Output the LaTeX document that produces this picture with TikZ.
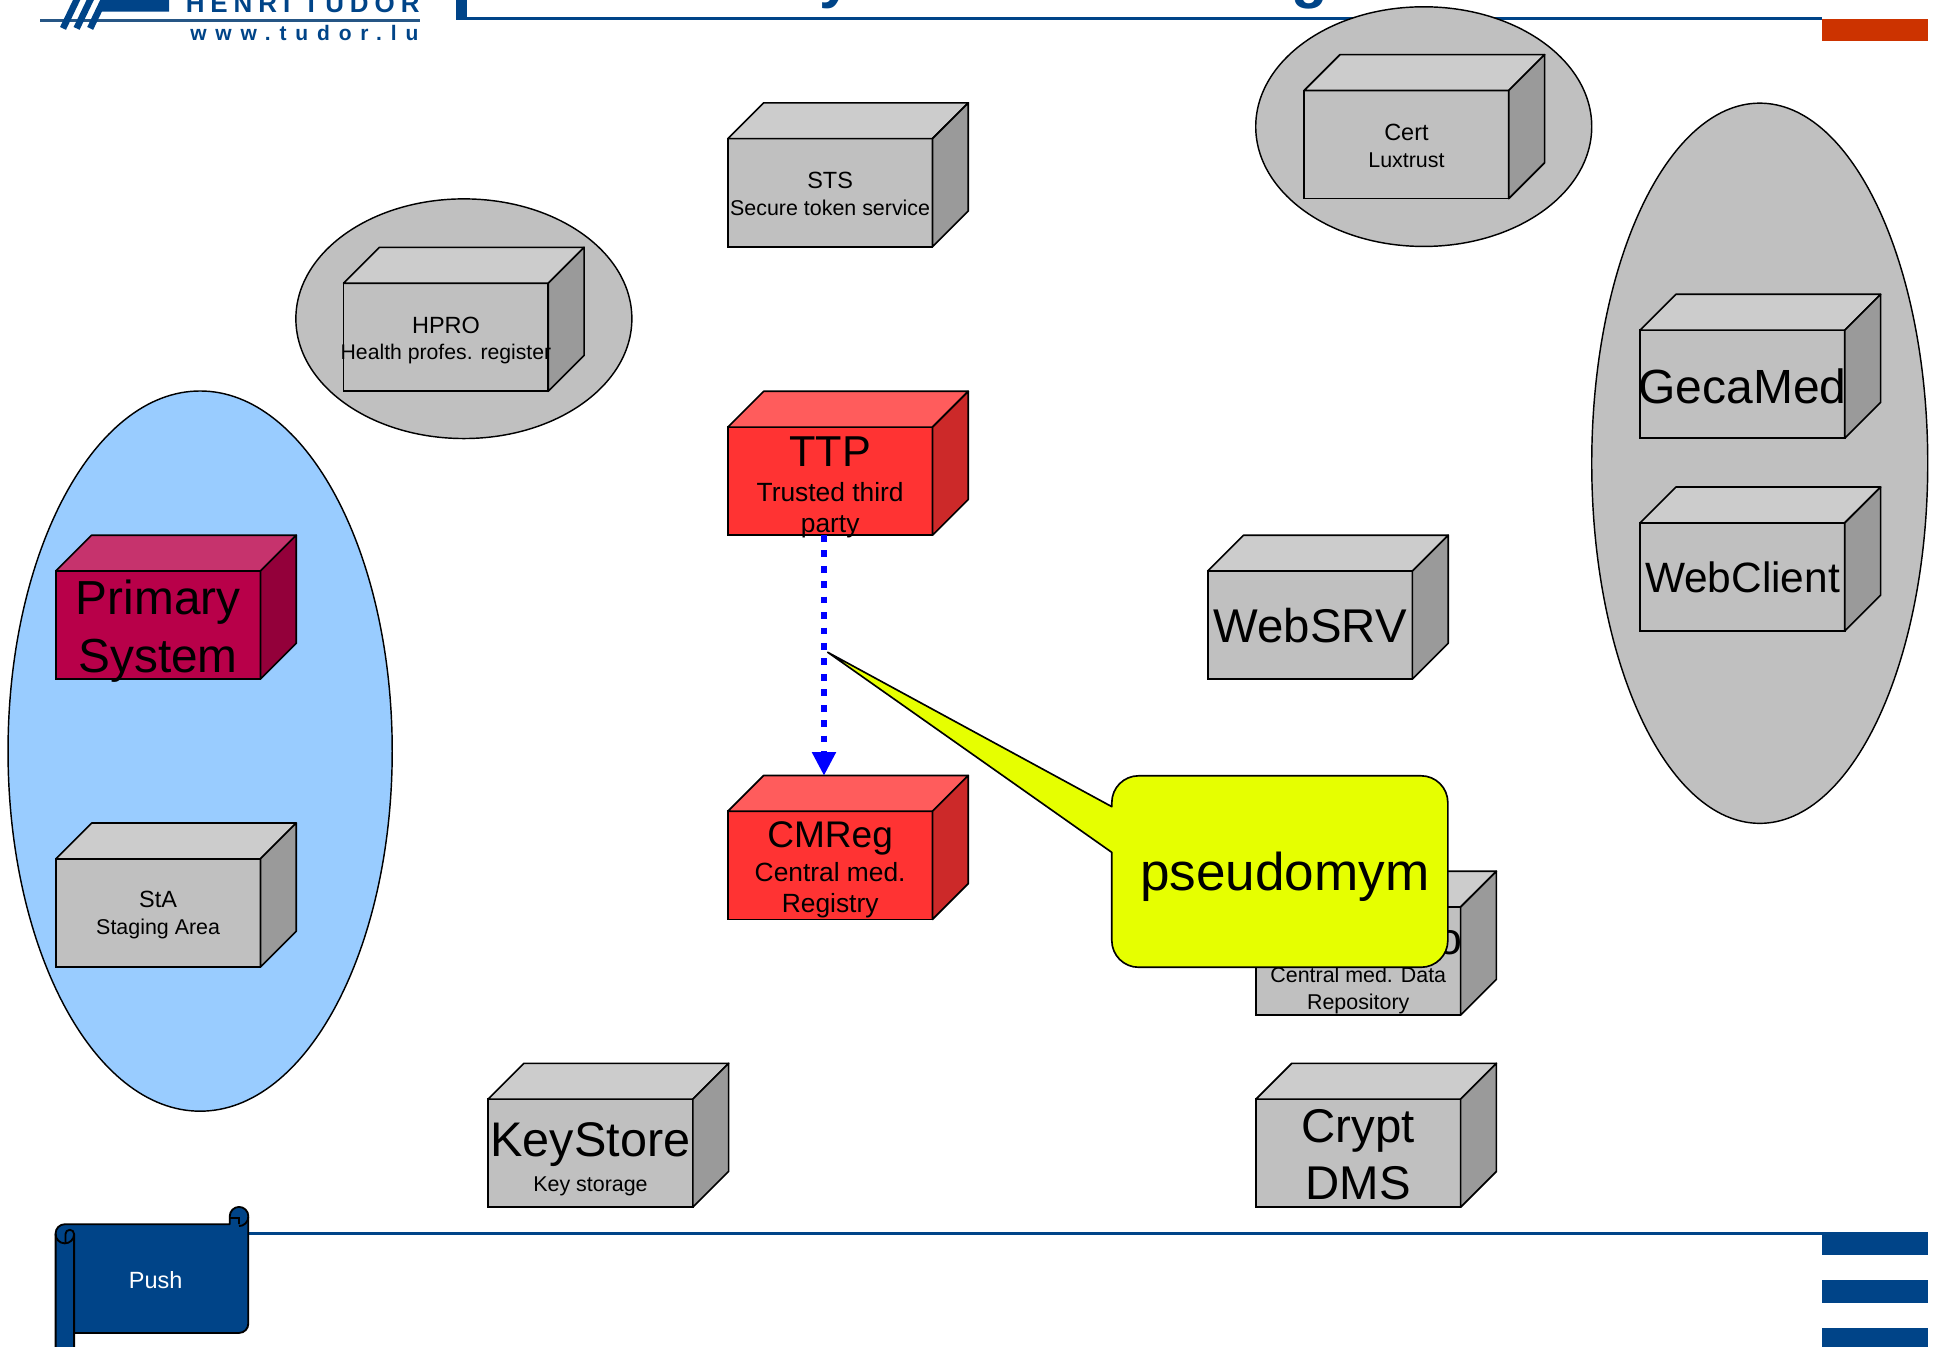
\documentclass[tikz,border=0pt]{standalone}
\usepackage{fontspec}
\setmainfont{Liberation Sans}
\newfontfamily\logobig[LetterSpace=23]{Liberation Sans}
\newfontfamily\logosmall[LetterSpace=42]{Liberation Sans}
\usetikzlibrary{shapes.geometric,arrows.meta}
\definecolor{navy}{HTML}{004488}
\definecolor{brick}{HTML}{CC3300}
\definecolor{greyfront}{HTML}{C0C0C0}
\definecolor{greytop}{HTML}{CCCCCC}
\definecolor{greyside}{HTML}{9A9A9A}
\definecolor{redfront}{HTML}{FF3333}
\definecolor{redtop}{HTML}{FF5C5C}
\definecolor{redside}{HTML}{CC2929}
\definecolor{plumfront}{HTML}{B80049}
\definecolor{plumtop}{HTML}{C6336D}
\definecolor{plumside}{HTML}{93003A}
\definecolor{skyzone}{HTML}{99CCFF}
\definecolor{callout}{HTML}{E6FF00}
\newcommand{\fs}[1]{\fontsize{#1}{#1}\selectfont}
\tikzset{
  frontbox/.style={draw=black,line width=0.8pt,minimum width=99.4pt,minimum height=52.5pt,inner sep=0pt,outer sep=0pt},
  facebox/.style={draw=black,line width=0.8pt,line join=round},
  boxtext/.style={align=center,inner sep=0pt,text=black},
  zone/.style={ellipse,draw=black,line width=0.7pt,fill=greyfront,inner sep=0pt},
  navybar/.style={fill=navy,draw=none}
}
\newcommand{\srvbox}[5][0]{
  \node[frontbox,fill=#4front] (#2) at (#3) {};
  \draw[facebox,fill=#4top] (#2.north west) -- ++(29,-29) -- ++(165.7,0) -- (#2.north east) -- cycle;
  \draw[facebox,fill=#4side] (#2.north east) -- ++(29,-29) -- ++(0,87.5) -- (#2.south east) -- cycle;
  \node[boxtext,yshift=#1pt] at (#2) {#5};
}
\begin{document}
\begin{tikzpicture}[x=0.6pt,y=-0.6pt]
  \useasboundingbox (0,0) rectangle (1568,1090);

  \fill[navybar] (369,0) rectangle (378,16.5);
  \fill[navybar] (369,14) rectangle (1475,16.5);
  \fill[brick] (1475,15) rectangle (1561,33);
  \node[anchor=base,text=navy,inner sep=0pt] (ylet) at (677,-3) {\fs{29}\bfseries y};
  \node[anchor=base,text=navy,inner sep=0pt] (glet) at (1060,-3) {\fs{29}\bfseries g};

  \fill[navy] (86,-2) -- (137,-2) -- (137,9.5) -- (82,9.5) -- cycle;
  \fill[navy!70!gray] (32,15) rectangle (340,18);
  \foreach \xpos in {51,62,73}
    \draw[navy,line width=3.2pt] (\xpos,23) -- ++(12,-25);
  \node[anchor=base east,inner sep=0pt,text=navy] (henri) at (340,10) {\fs{12.6}\logobig\bfseries HENRI TUDOR};
  \node[anchor=base east,inner sep=0pt,text=navy] (tudor) at (339,33) {\fs{10.2}\logosmall\bfseries www.tudor.lu};

  \fill[navybar] (201,997.5) rectangle (1475,1000);
  \fill[navybar] (1475,997.5) rectangle (1561,1016);
  \fill[navybar] (1475,1036) rectangle (1561,1055);
  \fill[navybar] (1475,1075) rectangle (1561,1092);

  \node[zone,minimum width=163.2pt,minimum height=116.4pt] (hprozone) at (375.5,258) {};
  \node[zone,minimum width=163.2pt,minimum height=116.4pt] (certzone) at (1152.5,102.5) {};
  \node[zone,minimum width=163.2pt,minimum height=349.8pt] (clientzone) at (1424.5,375) {};
  \node[zone,fill=skyzone,minimum width=186.6pt,minimum height=349.8pt] (primaryzone) at (162,608) {};

  \srvbox[-0.6]{sts}{672,156}{grey}{\fs{11.4}STS\\[1pt]\fs{10.4}Secure token service}
  \srvbox[-1.6]{hpro}{361,273}{grey}{\fs{11.4}HPRO\\[1pt]\fs{10.3}Health profes. register}
  \srvbox[-0.6]{cert}{1138.5,117}{grey}{\fs{11.4}Cert\\[1pt]\fs{10.4}Luxtrust}
  \srvbox[-3]{ttp}{672,389.5}{red}{\fs{21}TTP\\[5pt]\fs{12.8}Trusted third\\[3pt]\fs{12.8}party}
  \srvbox[-3]{primary}{128,506}{plum}{\fs{23.2}Primary\\[6.2pt]\fs{23.2}System}
  \srvbox[-1]{sta}{128,739}{grey}{\fs{11.4}StA\\[1pt]\fs{10.4}Staging Area}
  \srvbox{websrv}{1060.5,506}{grey}{\fs{23}WebSRV}
  \srvbox[-2]{cmreg}{672,700.5}{red}{\fs{18}CMReg\\[2.6pt]\fs{12.8}Central med.\\[3pt]\fs{12.8}Registry}
  \srvbox[-3.6]{cmdrepo}{1099.5,778}{grey}{\fs{21.7}CMDRepo\\[1pt]\fs{10.4}Central med. Data\\[1pt]\fs{10.4}Repository}
  \srvbox[-3]{keystore}{478,933.5}{grey}{\fs{23.6}KeyStore\\[3.8pt]\fs{10.4}Key storage}
  \srvbox[-0.9]{crypt}{1099.5,933.5}{grey}{\fs{23}Crypt\\[5.8pt]\fs{23}DMS}
  \srvbox[-1.2]{gecamed}{1410.5,311}{grey}{\fs{23.3}GecaMed}
  \srvbox{webclient}{1410.5,467}{grey}{\fs{20.6}WebClient}

  \coordinate (ttpout) at (667,433);
  \coordinate (cmregin) at (667,628);
  \draw[blue,line width=3.3pt,dash pattern=on 3.3pt off 4.2pt,-{Triangle[width=11pt,length=11.5pt]}] (ttpout) -- (cmregin);

  \coordinate (calltip) at (670,528);
  \draw[fill=callout,line width=0.8pt,line join=round] (calltip) -- (900,653) [rounded corners=13pt] -- (900,628) -- (1172,628) -- (1172,783) -- (900,783) [sharp corners] -- (900,690) -- cycle;
  \node[inner sep=0pt] (pseudo) at (1040,710) {\fs{25.8}pseudomym};

  \draw[fill=navy,line width=0.9pt,line join=round] (45,1110) [rounded corners=4.5pt] -- (45,991) [sharp corners] -- (186,991) [rounded corners=4.5pt] -- (186,977) -- (201,977) -- (201,1079) [sharp corners] -- (60,1079) -- (60,1110) -- cycle;
  \draw[line width=0.9pt] (60,1079) -- (60,999) (45,999) arc (180:0:7.5) arc (0:-180:3.5) -- (53,1006);
  \draw[line width=0.9pt] (201,985) arc (0:90:7.5) (193.5,991) -- (193.5,986) -- (186,986);
  \node[text=white,inner sep=0pt] (push) at (126,1036) {\fs{11.4}Push};
\end{tikzpicture}
\end{document}
